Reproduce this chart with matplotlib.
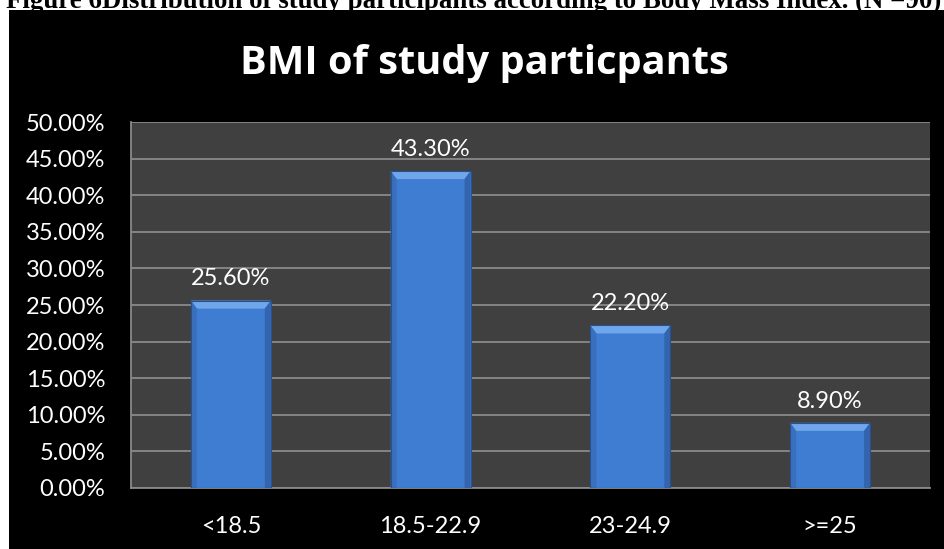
import matplotlib
matplotlib.use("Agg")
import matplotlib.pyplot as plt
from matplotlib.patches import Rectangle, Polygon
from matplotlib.ticker import FuncFormatter, MultipleLocator
import numpy as np

categories = ["<18.5", "18.5-22.9", "23-24.9", ">=25"]
percentages = [25.60, 43.30, 22.20, 8.90]
value_labels = ["25.60%", "43.30%", "22.20%", "8.90%"]

W, H, DPI = 944, 549, 100
fig = plt.figure(figsize=(W / DPI, H / DPI), dpi=DPI, facecolor="white")

# black chart frame below the caption strip
fig.patches.append(Rectangle((9 / W, 0), 1 - 9 / W, (H - 10) / H,
                             transform=fig.transFigure, facecolor="black",
                             edgecolor="none", zorder=-5))

# caption, clipped by the top edge of the image
fig.text(6 / W, (H - 8) / H, "Figure 6Distribution of study participants according to Body Mass Index. (N =90)",
         family="Liberation Serif", fontweight="bold", fontsize=19.4, color="black",
         ha="left", va="baseline")

fig.text(484 / W, (H - 74) / H, "BMI of study particpants", family="Open Sans",
         fontweight="bold", fontsize=28.6, color="white", ha="center", va="baseline")

ax = fig.add_axes([131 / W, (H - 488) / H, (930 - 131) / W, (488 - 122) / H])
ax.set_facecolor("#404040")

x = np.arange(len(categories))
bars = ax.bar(x, percentages, width=0.4, color="#3f7dd3", edgecolor="none", zorder=3)

ax.set_xlim(-0.5, len(categories) - 0.5)
ax.set_ylim(0, 50)
ax.yaxis.set_major_locator(MultipleLocator(5))
ax.yaxis.set_major_formatter(FuncFormatter(lambda v, p: f"{v:.2f}%"))
ax.grid(axis="y", color="#8a8a8a", linewidth=1.3, zorder=1)
ax.set_axisbelow(True)

for s in ["top", "right"]:
    ax.spines[s].set_visible(False)
for s in ["left", "bottom"]:
    ax.spines[s].set_color("#8a8a8a")
    ax.spines[s].set_linewidth(1.3)

ax.set_xticks(x)
ax.set_xticklabels(categories)
ax.tick_params(axis="both", length=0, colors="white", labelsize=17)
ax.tick_params(axis="y", pad=18.5)
ax.tick_params(axis="x", pad=20)
for lab in ax.get_xticklabels() + ax.get_yticklabels():
    lab.set_family("Lato")

# bevelled look on each bar: lighter top band, darker side strips
to_data = ax.transData.inverted()
px_w = abs(to_data.transform((6, 0))[0] - to_data.transform((0, 0))[0])
px_h = abs(to_data.transform((0, 8))[1] - to_data.transform((0, 0))[1])
for b in bars:
    x0, w, h = b.get_x(), b.get_width(), b.get_height()
    x1 = x0 + w
    bh = min(px_h, h)
    ax.add_patch(Polygon([(x0, h), (x1, h), (x1 - px_w, h - bh), (x0 + px_w, h - bh)],
                         closed=True, facecolor="#6fa6ec", edgecolor="none", zorder=4))
    ax.add_patch(Polygon([(x0, 0), (x0, h), (x0 + px_w, h - bh), (x0 + px_w, 0)],
                         closed=True, facecolor="#3a6fbd", edgecolor="none", zorder=4))
    ax.add_patch(Polygon([(x1, 0), (x1, h), (x1 - px_w, h - bh), (x1 - px_w, 0)],
                         closed=True, facecolor="#3364ad", edgecolor="none", zorder=4))
    ax.add_patch(Rectangle((x0, 0), w, h, facecolor="none", edgecolor="#27518f",
                           linewidth=0.8, zorder=5))

for b, lab in zip(bars, value_labels):
    ax.annotate(lab, (b.get_x() + b.get_width() / 2, b.get_height()),
                xytext=(0, 8), textcoords="offset points", ha="center", va="bottom",
                color="white", fontsize=17, family="Lato")

fig.savefig("out.png", dpi=DPI, facecolor="white")
